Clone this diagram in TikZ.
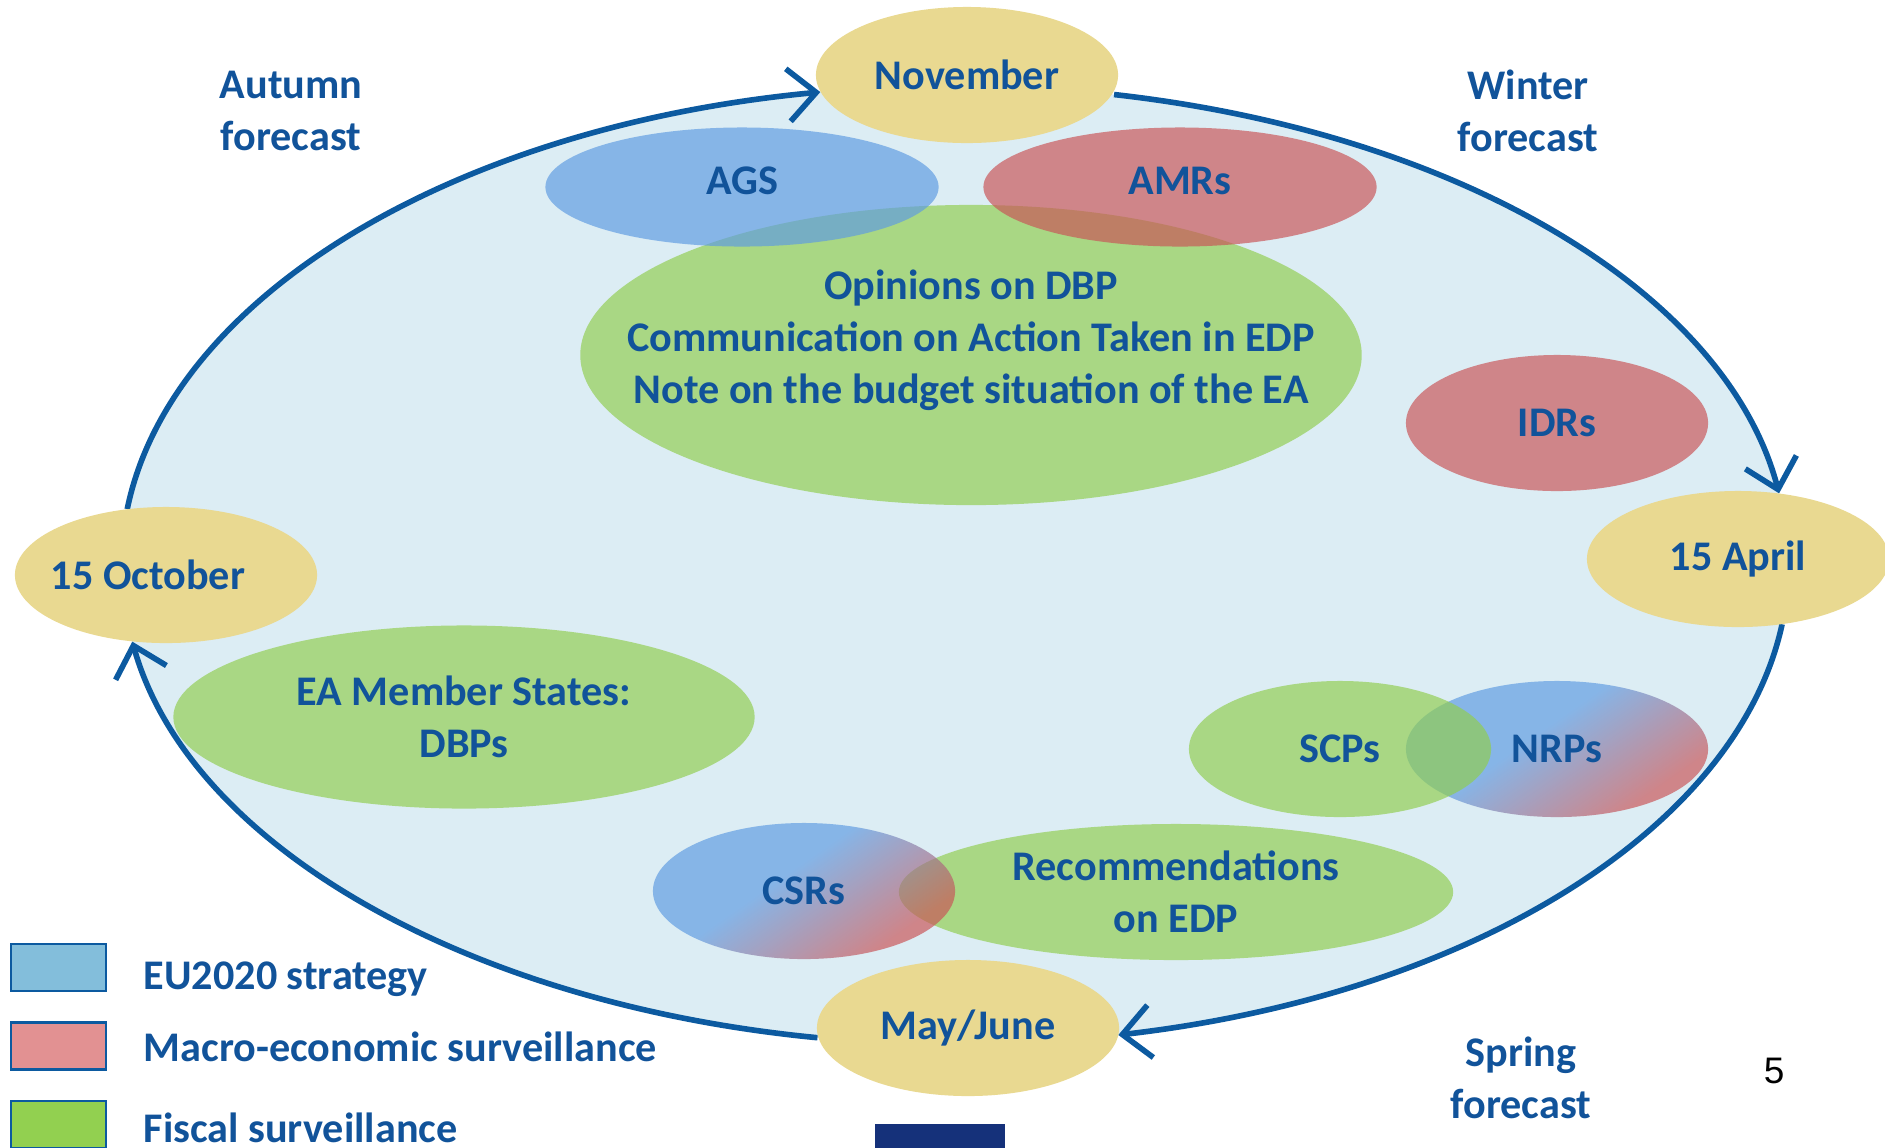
\documentclass[tikz,border=0pt]{standalone}
\usepackage{fontspec}
\setmainfont{Carlito}
\newfontfamily\slidefont{Liberation Sans}
\usetikzlibrary{shapes.geometric}
\usetikzlibrary{arrows.meta}
\definecolor{ec-text}{HTML}{11539A}
\definecolor{ec-line}{HTML}{0C5AA0}
\definecolor{ec-sky}{HTML}{DCEDF4}
\definecolor{ec-date}{HTML}{E9D991}
\definecolor{ec-fisc}{RGB}{145,206,79}
\definecolor{ec-eu}{RGB}{94,155,226}
\definecolor{ec-macro}{RGB}{201,84,87}
\definecolor{key-eu}{HTML}{83BEDB}
\definecolor{key-macro}{HTML}{E29192}
\definecolor{key-fisc}{HTML}{92D050}
\definecolor{ec-navy}{HTML}{15317A}
\pgfdeclareverticalshading{eu-macro}{100bp}{color(0bp)=(ec-macro); color(28bp)=(ec-macro); color(56bp)=(ec-eu); color(100bp)=(ec-eu)}
\newcommand{\ecfont}{\fontsize{12pt}{14.8pt}\selectfont\bfseries}
\newcommand{\lift}{\rule[-0.12cm]{0pt}{0pt}}
\tikzset{
  date/.style={ellipse, fill=ec-date, inner sep=0pt, minimum width=3.02cm, minimum height=1.36cm},
  blob/.style={ellipse, inner sep=0pt, align=center, fill opacity=0.68, text opacity=1,
    minimum width=3.02cm, minimum height=1.36cm},
  fisc/.style={blob, fill=ec-fisc},
  euro/.style={blob, fill=ec-eu},
  macro/.style={blob, fill=ec-macro},
  mixed/.style={blob, shade, shading=eu-macro, shading angle=35},
  cycle-arrow/.style={draw=ec-line, line width=1.6pt, -{Straight Barb[length=8pt, width=15pt]}},
  key-box/.style={rectangle, draw=ec-line, line width=0.8pt, minimum width=0.95cm,
    minimum height=0.47cm, inner sep=0pt},
}
\begin{document}
\begin{tikzpicture}[x=0.01cm, y=0.01cm, every node/.style={font=\ecfont, text=ec-text}]
  \pgfmathsetmacro{\cycrx}{8.33}
  \pgfmathsetmacro{\cycry}{4.79}
  \useasboundingbox (0,0) rectangle (1885,-1147);

  % yearly cycle
  \node[ellipse, fill=ec-sky, inner sep=0pt, minimum width=2*\cycrx cm,
    minimum height=2*\cycry cm] (cyc) at (955,-565) {};
  \foreach \a/\b in {173.3/99.3, 79/8.6, -7.1/-78.7, -99.5/-170.8} {
    \draw[cycle-arrow] (cyc.center) ++(\a:\cycrx cm and \cycry cm)
      arc[start angle=\a, end angle=\b, x radius=\cycrx cm, y radius=\cycry cm];
  }

  % fiscal surveillance
  \node[fisc, minimum width=7.81cm, minimum height=3cm, inner xsep=-1cm] (opin) at (971,-355)
    {Opinions on DBP\\Communication on Action Taken in EDP\\Note on the budget situation of the EA\\[-4.4pt]\mbox{}};
  \node[fisc, minimum width=5.81cm, minimum height=1.83cm] (dbp) at (464,-717) {EA Member States:\\DBPs};
  \node[fisc, minimum width=5.54cm] (edp) at (1176,-892) {Recommendations\\on EDP};

  % EU2020 and macro-economic surveillance
  \node[euro, minimum width=3.93cm, minimum height=1.19cm] (ags) at (742,-187) {AGS\lift};
  \node[macro, minimum width=3.93cm, minimum height=1.19cm] (amr) at (1180,-187) {AMRs\lift};
  \node[macro] (idr) at (1557,-423) {IDRs};
  \node[mixed] (csr) at (804,-891) {CSRs};
  \node[mixed] (nrp) at (1557,-749) {NRPs};
  \node[fisc] (scp) at (1340,-749) {SCPs};

  % dates
  \node[date] (d-nov) at (967,-75) {November};
  \node[date] (d-apr) at (1738,-559) {15 April};
  \node[date] (d-may) at (968,-1028) {May/June};
  \node[date, inner xsep=-0.3cm] (d-oct) at (166,-575) {15 October\kern0.36cm};

  % forecasts
  \node[align=center] (f-aut) at (291,-111) {Autumn\\forecast};
  \node[align=center] (f-win) at (1528,-111) {Winter\\forecast};
  \node[align=center] (f-spr) at (1521,-1078) {Spring\\forecast};

  % legend
  \foreach \col/\txt/\base [count=\i from 0] in {key-eu/EU2020 strategy/989, key-macro/Macro-economic surveillance/1061, key-fisc/Fiscal surveillance/1142} {
    \node[key-box, fill=\col] (key\i) at (58.5,-967.5-78.5*\i) {};
    \node[anchor=base west, inner sep=0pt] (key-txt\i) at (143,-\base) {\txt};
  }

  \node[font=\slidefont\fontsize{10.5pt}{12pt}\selectfont, text=black] (page) at (1774,-1071) {5};
  \node[fill=ec-navy, minimum width=1.3cm, minimum height=0.3cm, inner sep=0pt,
    anchor=north west] (bar) at (874,-1123) {};
\end{tikzpicture}
\end{document}
